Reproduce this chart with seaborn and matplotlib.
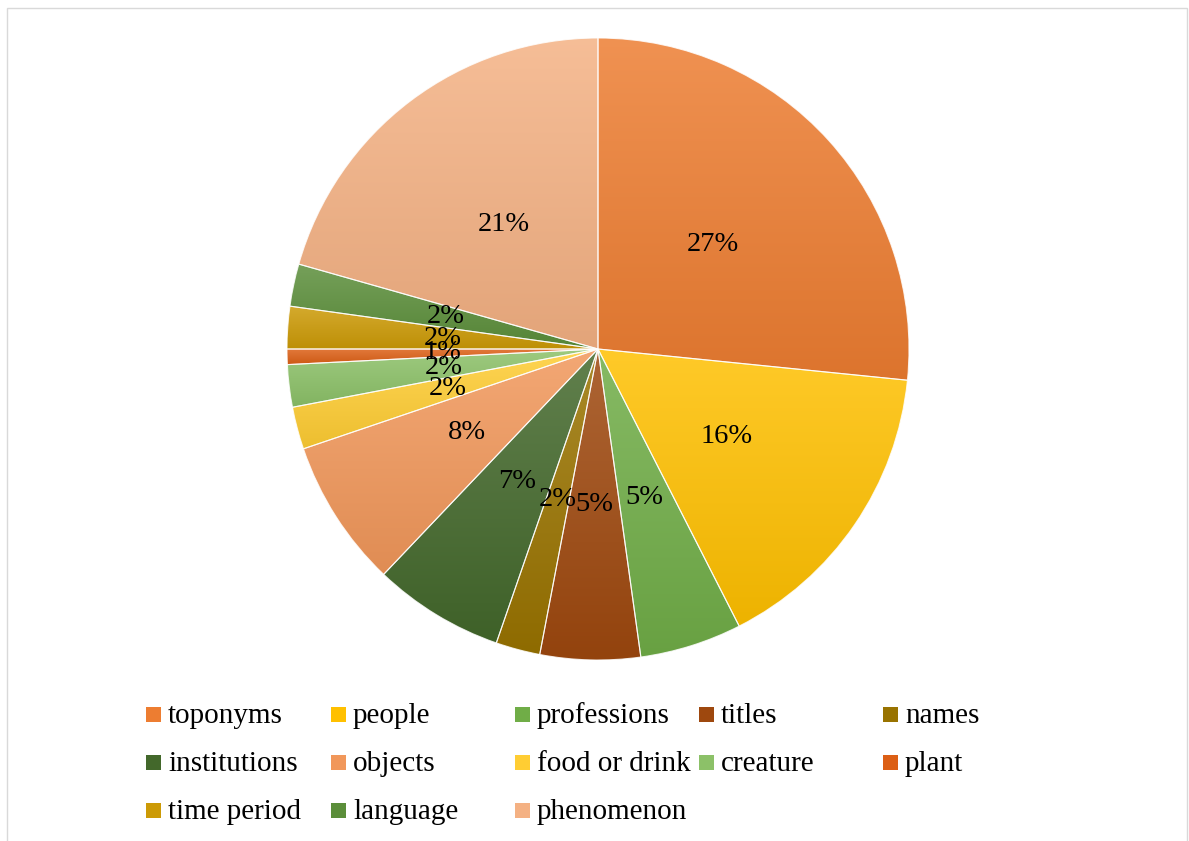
import numpy as np
import matplotlib
matplotlib.use("Agg")
import matplotlib.pyplot as plt
import seaborn as sns
from matplotlib.colors import LinearSegmentedColormap, to_rgb
from matplotlib.patches import Rectangle

"""
Category shares (percent) read off the reference pie.
"""
categories = ["toponyms", "people", "professions", "titles", "names",
              "institutions", "objects", "food or drink", "creature", "plant",
              "time period", "language", "phenomenon"]
shares = [26.6, 15.9, 5.3, 5.2, 2.3, 6.8, 7.7, 2.2, 2.2, 0.8, 2.2, 2.2, 20.6]
colors = ["#ED7D31", "#FFC000", "#70AD47", "#9E480E", "#997300",
          "#43682B", "#F1975A", "#FFCD33", "#8CC168", "#DC5F15",
          "#CC9A06", "#5B8E3A", "#F4B183"]

sns.set_style("white")
plt.rcParams["font.family"] = ["Liberation Serif", "DejaVu Serif"]

W, H = 1189, 841
fig = plt.figure(figsize=(W / 100, H / 100), dpi=100)

# pie axes: centre (598, 349) px, radius 311 px
cx, cy, r = 598, 349, 311
ax = fig.add_axes([(cx - r) / W, (H - cy - r) / H, 2 * r / W, 2 * r / H])

wedges, texts, autotexts = ax.pie(
    shares,
    colors=colors,
    startangle=90,
    counterclock=False,
    autopct="%.0f%%",
    pctdistance=0.5,
    radius=1,
    wedgeprops=dict(edgecolor=(1, 1, 1, 0.8), linewidth=0.8),
    textprops=dict(fontsize=20.5, color="black"),
)

"""
Excel-style gradient: lighter at the top of each slice, darker at the bottom.
"""
grad = np.linspace(0, 1, 256).reshape(-1, 1)
for w, c in zip(wedges, colors):
    base = np.array(to_rgb(c))
    light = base + (1 - base) * 0.16
    dark = base * 0.93
    cmap = LinearSegmentedColormap.from_list("g", [light, dark])
    verts = w.get_path().vertices
    x0, x1 = verts[:, 0].min(), verts[:, 0].max()
    y0, y1 = verts[:, 1].min(), verts[:, 1].max()
    im = ax.imshow(grad, cmap=cmap, extent=[x0, x1, y0, y1], origin="upper",
                   aspect="auto", zorder=1, interpolation="bilinear")
    im.set_clip_path(w)
    w.set_facecolor((0, 0, 0, 0))
    w.set_zorder(2)
for t in autotexts:
    t.set_zorder(3)

ax.set_xlim(-1, 1)
ax.set_ylim(-1, 1)
ax.set_aspect("equal")
ax.axis("off")

"""
Legend laid out row by row like the source chart.
"""
col_x = [146, 331, 515, 699, 883]
row_y = [715, 763, 811]
for i, (name, c) in enumerate(zip(categories, colors)):
    row, col = divmod(i, 5)
    mx, my = col_x[col], row_y[row]
    fig.add_artist(Rectangle((mx / W, 1 - (my + 7) / H), 15 / W, 15 / H,
                             transform=fig.transFigure, facecolor=c,
                             edgecolor="none"))
    fig.text((mx + 22) / W, 1 - (my + 1) / H, name, fontsize=21,
             va="center", ha="left", color="black")

# chart area frame
fig.add_artist(Rectangle((7 / W, -0.01), (1187 - 7) / W, 1 - 8 / H + 0.01,
                         transform=fig.transFigure, facecolor="none",
                         edgecolor="#D9D9D9", linewidth=1))

fig.savefig("out.png", dpi=100)
